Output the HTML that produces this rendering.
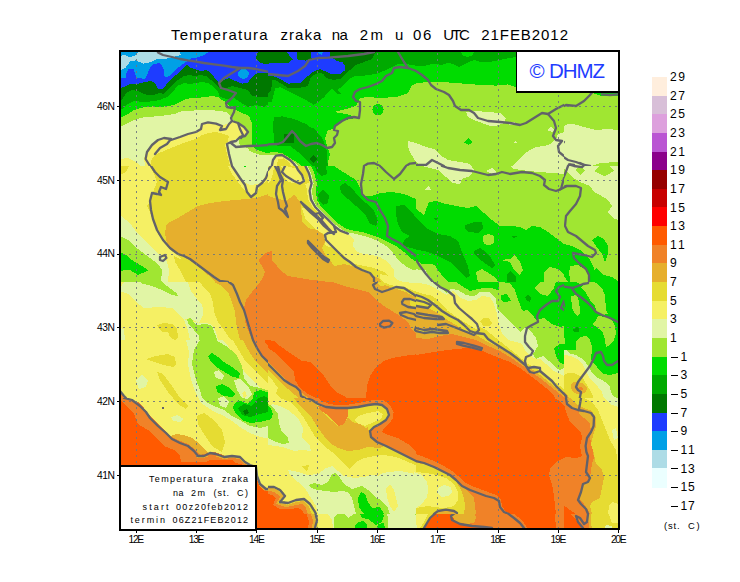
<!DOCTYPE html><html><head><meta charset="utf-8"><style>
html,body{margin:0;padding:0;background:#fff;}body{width:740px;height:582px;overflow:hidden;position:relative;font-family:"Liberation Sans",sans-serif;color:#000;}
svg{position:absolute;left:0;top:0;}
.t{position:absolute;white-space:nowrap;line-height:1;}
</style></head><body>
<svg width="740" height="582" viewBox="0 0 740 582" shape-rendering="crispEdges">
<rect x="0" y="0" width="740" height="582" fill="#fff"/>
<rect x="120" y="51" width="499" height="479" fill="#a0e632"/>
<defs>
<clipPath id="c0"><rect x="120" y="50" width="148" height="116"/></clipPath>
<clipPath id="c1"><rect x="268" y="50" width="148" height="116"/></clipPath>
<clipPath id="c2"><rect x="416" y="50" width="148" height="116"/></clipPath>
<clipPath id="c3"><rect x="564" y="50" width="56" height="116"/></clipPath>
<clipPath id="c4"><rect x="120" y="166" width="148" height="116"/></clipPath>
<clipPath id="c5"><rect x="268" y="166" width="148" height="116"/></clipPath>
<clipPath id="c6"><rect x="416" y="166" width="148" height="116"/></clipPath>
<clipPath id="c7"><rect x="564" y="166" width="56" height="116"/></clipPath>
<clipPath id="c8"><rect x="120" y="282" width="148" height="116"/></clipPath>
<clipPath id="c9"><rect x="268" y="282" width="148" height="116"/></clipPath>
<clipPath id="c10"><rect x="416" y="282" width="148" height="116"/></clipPath>
<clipPath id="c11"><rect x="564" y="282" width="56" height="116"/></clipPath>
<clipPath id="c12"><rect x="120" y="398" width="148" height="116"/></clipPath>
<clipPath id="c13"><rect x="268" y="398" width="148" height="116"/></clipPath>
<clipPath id="c14"><rect x="416" y="398" width="148" height="116"/></clipPath>
<clipPath id="c15"><rect x="564" y="398" width="56" height="116"/></clipPath>
<clipPath id="c16"><rect x="120" y="514" width="148" height="16"/></clipPath>
<clipPath id="c17"><rect x="268" y="514" width="148" height="16"/></clipPath>
<clipPath id="c18"><rect x="416" y="514" width="148" height="16"/></clipPath>
<clipPath id="c19"><rect x="564" y="514" width="56" height="16"/></clipPath>
<clipPath id="c20"><rect x="121" y="52" width="497" height="477"/></clipPath>
<clipPath id="c21"><rect x="121" y="52" width="497" height="477"/></clipPath>
<clipPath id="c22"><rect x="121" y="52" width="497" height="477"/></clipPath>
<clipPath id="c23"><rect x="121" y="52" width="497" height="477"/></clipPath>
<clipPath id="c24"><rect x="564" y="166" width="56" height="116"/></clipPath>
<clipPath id="c25"><rect x="121" y="340" width="147" height="116"/></clipPath>
<clipPath id="c26"><rect x="121" y="52" width="497" height="477"/></clipPath>
<clipPath id="c27"><rect x="380" y="270" width="102" height="80"/></clipPath>
</defs>
<g clip-path="url(#c0)"><g transform="translate(120,50) scale(0.2)">
<rect x="-50" y="-50" width="900" height="700" fill="#00a0e6"/>
<polygon fill="#addce6" points="8,28 25,22 45,38 80,25 90,10 300,10 305,25 265,35 215,48 190,42 150,62 115,68 80,52 50,58 28,88 8,100 0,100 0,28"/>
<polygon fill="#1e3cff" points="0,140 28,138 31,120 41,97 69,93 76,124 83,138 124,145 138,117 152,83 172,69 200,66 217,90 221,131 235,138 262,117 297,83 331,59 359,41 386,38 414,28 448,8 760,8 760,600 0,600"/>
<polygon fill="#00a0e6" points="590,110 605,95 630,95 645,115 640,135 620,145 600,140 590,125"/>
<polygon fill="#007800" points="0,195 10,188 35,178 55,168 80,172 105,165 135,158 155,155 178,168 190,195 215,195 232,172 262,142 298,108 335,72 352,88 378,97 402,106 432,100 452,112 472,138 492,162 520,150 545,140 562,148 585,158 610,168 640,165 655,140 680,118 760,112 760,600 0,600"/>
<polygon fill="#007800" points="690,8 680,40 700,65 740,72 760,72 760,8"/>
<polygon fill="#00aa00" points="0,255 10,250 30,215 60,200 90,205 110,215 135,225 165,225 200,215 215,220 235,200 262,175 290,150 320,130 345,125 375,130 400,125 430,130 455,150 475,170 500,195 530,190 560,180 600,190 640,200 660,230 700,235 760,235 760,600 0,600"/>
<polygon fill="#00dc00" points="0,300 10,295 40,270 70,255 100,258 130,262 165,255 200,250 235,235 262,210 290,178 320,165 350,170 380,165 410,160 440,165 470,185 490,210 500,235 530,245 570,240 600,260 640,285 680,275 720,285 760,260 760,600 0,600"/>
<polygon fill="#a0e632" points="0,338 10,335 40,320 70,300 100,290 130,285 165,282 200,285 240,280 270,275 300,260 330,245 360,240 400,238 430,235 460,230 490,235 510,250 530,262 545,280 560,290 600,310 645,330 662,370 662,420 658,460 670,500 672,600 0,600"/>
<polygon fill="#e1f5a5" points="0,385 10,380 40,365 70,350 100,340 130,335 180,332 240,325 280,318 300,308 340,305 400,300 450,300 500,305 530,310 555,330 560,345 590,365 620,390 640,410 620,430 590,440 600,480 640,490 655,520 650,600 0,600"/>
<polygon fill="#a0e632" points="655,470 672,490 700,505 730,515 760,515 760,600 655,600"/>
<polygon fill="#e1f5a5" points="640,500 670,515 700,525 760,525 760,600 640,600"/>
<polygon fill="#f5f064" points="125,580 120,540 135,500 160,470 200,445 230,440 260,445 300,430 340,420 380,410 405,395 410,370 440,365 480,370 520,375 545,365 560,355 590,365 620,390 640,410 620,430 590,440 560,455 535,470 545,520 560,580"/>
<polygon fill="#e6dc32" points="150,580 160,540 185,520 230,500 280,480 330,460 380,445 410,425 440,415 480,410 520,420 545,430 540,455 525,470 535,520 550,580"/>
<polygon fill="#f5f064" points="0,545 40,540 80,560 100,580 0,580"/>
</g></g>
<g clip-path="url(#c1)"><g transform="translate(268,50) scale(0.2)">
<rect x="-50" y="-50" width="900" height="700" fill="#00dc00"/>
<polygon fill="#00aa00" points="0,8 0,262 18,261 37,190 62,187 100,205 149,230 187,249 230,274 249,261 280,236 311,199 323,196 348,221 367,218 348,199 373,180 398,155 410,143 435,130 480,128 540,120 590,100 620,85 650,70 700,72 740,78 770,80 770,8"/>
<polygon fill="#007800" points="0,8 540,8 520,45 480,60 440,75 410,100 386,124 361,146 323,149 292,140 274,118 249,115 215,134 199,180 155,190 100,190 68,168 37,152 0,152"/>
<polygon fill="#007800" points="-10,120 15,125 20,170 15,200 -10,228"/>
<polygon fill="#1e3cff" points="0,68 25,65 100,65 124,47 90,8 143,8 146,47 187,53 218,44 215,8 311,8 308,31 348,56 373,62 386,81 383,103 361,121 317,121 286,106 261,96 230,106 199,131 162,165 100,168 62,146 37,134 0,128"/>
<polygon fill="#00a0e6" points="245,8 275,8 270,25 255,20"/>
<polygon fill="#00aa00" points="30,335 70,332 130,345 190,370 230,400 250,440 250,470 215,470 190,480 160,470 130,478 100,482 60,480 30,475 28,420 25,380"/>
<polygon fill="#007800" points="80,420 130,420 130,465 80,465"/>
<polygon fill="#007800" points="225,525 245,545 225,565 208,545"/>
<polygon fill="#a0e632" points="740,170 720,175 700,215 640,235 560,240 500,235 460,240 440,280 390,295 330,310 390,320 440,335 420,345 380,350 345,375 330,395 300,400 285,440 295,480 310,520 300,560 290,600 760,600 760,170"/>
<polygon fill="#00dc00" points="578,298 574.249,312 564,322.249 550,326 536,322.249 525.751,312 522,298 525.751,284 536,273.751 550,270 564,273.751 574.249,284"/>
<polygon fill="#e1f5a5" points="700,460 740,455 760,455 760,530 740,535 720,510"/>
<polygon fill="#00aa00" points="30,440 70,470 110,480 150,510 190,550 230,590 300,600 292,490 270,440 230,390"/>
<polygon fill="#007800" points="225,525 245,545 225,565 208,545"/>
<polygon fill="#007800" points="80,420 130,420 130,465 80,465"/>
<polygon fill="#a0e632" points="-10,515 30,510 70,515 110,540 150,565 190,600 -10,600"/>
<polygon fill="#e1f5a5" points="-40,525 30,525 70,522 110,545 150,575 165,600 -40,600"/>
<polygon fill="#f5f064" points="20,600 25,550 40,530 70,528 110,552 140,580 150,600"/>
<polygon fill="#e6dc32" points="40,600 50,545 80,542 110,567 125,600"/>
</g></g>
<g clip-path="url(#c2)"><g transform="translate(416,50) scale(0.2)">
<rect x="-50" y="-50" width="900" height="700" fill="#a0e632"/>
<polygon fill="#00dc00" points="0,8 500,8 500,185 460,172 400,178 330,175 260,170 200,165 130,160 70,160 0,165"/>
<polygon fill="#00aa00" points="0,8 500,8 500,35 440,45 380,58 330,62 290,50 255,65 215,85 165,62 130,75 90,68 40,80 0,78"/>
<polygon fill="#00dc00" points="225,8 290,8 285,25 260,35 235,28"/>
<polygon fill="#e1f5a5" points="250,310 300,305 360,310 420,315 450,340 440,365 400,380 370,380 330,365 290,350 260,335"/>
<polygon fill="#e1f5a5" points="455,365 490,360 500,370 470,375"/>
<polygon fill="#00dc00" points="240,462 262,442 285,460 262,475"/>
<polygon fill="#e1f5a5" points="490,465 498,452 506,465"/>
<polygon fill="#e1f5a5" points="655,400 675,385 695,400 680,410"/>
<polygon fill="#e1f5a5" points="0,465 30,475 60,490 100,515 130,540 150,560 170,580 0,580"/>
<polygon fill="#e1f5a5" points="480,580 510,555 540,520 570,500 600,485 640,480 670,470 700,445 710,420 740,410 760,410 760,580"/>
</g></g>
<g clip-path="url(#c3)"><g transform="translate(472,50) scale(0.2)">
<rect x="-50" y="-50" width="900" height="700" fill="#a0e632"/>
<polygon fill="#00dc00" points="460,8 760,8 760,225 700,232 640,228 600,215 500,185 460,172"/>
<polygon fill="#e1f5a5" points="230,580 240,560 270,520 310,490 350,480 400,470 420,440 425,400 450,385 475,372 500,368 560,385 620,400 680,395 730,400 760,400 760,580"/>
<polygon fill="#a0e632" points="600,580 640,565 730,560 760,560 760,600 600,600"/>
</g></g>
<g clip-path="url(#c4)"><g transform="translate(120,166) scale(0.2)">
<rect x="-50" y="-50" width="900" height="700" fill="#e6dc32"/>
<polygon fill="#f5f064" points="0,0 150,0 170,40 185,80 165,130 150,180 135,200 150,230 165,280 190,340 220,380 250,420 240,450 230,480 245,520 250,580 0,580"/>
<polygon fill="#e6dc32" points="0,0 45,0 30,30 8,40 0,40"/>
<polygon fill="#f5f064" points="250,420 290,445 330,500 360,580 250,580 230,480"/>
<polygon fill="#e6dc32" points="270,450 310,470 340,500 360,540 390,580 330,580 300,520 275,480"/>
<polygon fill="#e1f5a5" points="0,250 8,250 30,270 60,300 90,340 130,380 170,420 200,445 235,480 245,520 240,580 200,580 0,580"/>
<polygon fill="#a0e632" points="0,355 8,355 40,370 70,400 110,430 150,460 190,490 210,520 200,580 0,580"/>
<polygon fill="#00dc00" points="0,440 8,435 30,445 60,470 100,495 135,515 145,530 120,550 90,545 50,520 20,520 0,530"/>
<polygon fill="#e6af2d" points="230,300 240,285 290,260 340,230 390,200 450,185 520,175 600,168 680,160 740,140 760,140 760,580 480,580 440,545 400,510 360,480 320,455 290,445 260,420 235,385 225,340"/>
<polygon fill="#f08228" points="760,430 740,440 720,445 695,475 710,500 725,530 715,560 700,580 760,580"/>
<polygon fill="#f5f064" points="540,0 560,40 590,80 620,120 650,150 680,140 700,100 740,70 760,70 760,0"/>
<polygon fill="#e1f5a5" points="565,0 590,40 620,80 650,95 690,90 720,60 740,30 760,30 760,0"/>
<polygon fill="#00dc00" points="615,0 635,0 625,8"/>
</g></g>
<g clip-path="url(#c5)"><g transform="translate(268,166) scale(0.2)">
<rect x="-50" y="-50" width="900" height="700" fill="#a0e632"/>
<polygon fill="#00dc00" points="215,0 330,0 360,20 400,45 440,70 460,110 480,150 520,150 560,135 620,130 680,140 740,165 760,170 760,490 720,465 680,430 640,400 600,380 560,360 520,345 470,330 420,322 385,310 352,288 322,258 290,228 262,200 245,168 238,124 245,87 232,37"/>
<polygon fill="#00aa00" points="235,0 290,0 295,40 270,50 245,30"/>
<polygon fill="#00aa00" points="250,140 275,120 305,150 300,185 275,195 255,170"/>
<polygon fill="#00aa00" points="360,100 385,85 420,110 450,150 490,185 530,225 550,275 540,300 510,290 490,250 440,200 400,165 365,135"/>
<polygon fill="#00aa00" points="640,200 680,195 710,220 750,270 770,285 770,422 710,410 675,395 680,370 710,350 670,330 650,290 640,240"/>
<polygon fill="#e1f5a5" points="198,0 215,37 228,87 220,124 226,168 245,203 276,233 308,264 340,295 370,318 405,333 450,342 500,355 550,375 590,400 625,435 655,475 695,505 740,528 760,535 760,600 -20,600 -20,0"/>
<polygon fill="#f5f064" points="187,0 205,37 218,87 208,124 215,168 236,205 267,236 299,267 330,299 361,323 398,339 430,365 425,400 445,430 480,440 520,445 560,455 600,480 630,520 650,560 660,600 -20,600 -20,0"/>
<polygon fill="#e6dc32" points="-20,0 60,0 75,15 80,60 100,80 150,90 185,85 195,120 200,165 220,200 250,235 265,300 290,340 280,370 290,400 330,410 370,440 400,470 430,490 480,500 530,510 580,530 610,560 620,600 -20,600"/>
<polygon fill="#e6dc32" points="100,0 185,0 200,40 205,87 150,90"/>
<polygon fill="#f5f064" points="-20,0 30,0 25,40 10,80 -20,100"/>
<polygon fill="#f5f064" points="80,20 100,5 135,10 165,35 185,62 178,85 150,88 110,72 85,50"/>
<polygon fill="#f5f064" points="170,210 200,215 235,250 270,285 300,320 330,340 290,345 250,325 215,295 185,260"/>
<polygon fill="#e6af2d" points="-20,149 0,149 37,162 93,174 131,143 162,180 168,249 171,280 205,311 245,320 280,345 285,380 270,410 285,440 310,470 330,500 380,490 420,500 470,525 520,545 560,565 580,600 -20,600"/>
<polygon fill="#f08228" points="-20,455 0,455 30,480 60,520 100,550 160,560 220,570 280,575 310,600 -20,600"/>
</g></g>
<g clip-path="url(#c6)"><g transform="translate(416,166) scale(0.2)">
<rect x="-50" y="-50" width="900" height="700" fill="#a0e632"/>
<polygon fill="#e1f5a5" points="100,0 130,10 200,20 270,25 290,35 260,55 230,75 220,95 195,90 170,70 140,45 110,20"/>
<polygon fill="#e1f5a5" points="350,25 380,10 405,30 380,40"/>
<polygon fill="#e1f5a5" points="470,0 490,15 560,25 620,30 680,35 740,40 760,40 760,0"/>
<polygon fill="#e1f5a5" points="45,120 62,100 80,122"/>
<polygon fill="#e1f5a5" points="0,0 60,0 30,8 0,8"/>
<polygon fill="#00dc00" points="0,215 40,245 65,180 100,175 150,190 200,200 260,210 300,200 340,235 380,270 420,300 480,300 520,305 550,320 580,300 620,305 660,330 700,360 740,390 760,400 760,600 0,600"/>
<polygon fill="#a0e632" points="0,470 30,490 70,490 100,500 95,580 0,580"/>
<polygon fill="#e1f5a5" points="0,515 25,520 40,560 20,575 0,570"/>
<polygon fill="#a0e632" points="335,350 360,340 390,350 392,385 365,397 338,388"/>
<polygon fill="#a0e632" points="300,530 330,515 370,540 400,560 410,580 310,580"/>
<polygon fill="#a0e632" points="420,470 470,465 495,445 520,480 535,520 520,545 490,520 470,480"/>
<polygon fill="#a0e632" points="640,580 640,530 670,505 710,515 740,540 760,550 760,580"/>
<polygon fill="#00aa00" points="-20,240 10,270 50,310 110,340 170,350 210,375 230,430 260,500 270,550 250,560 210,520 170,480 110,450 60,430 10,420 -20,415"/>
<polygon fill="#00aa00" points="245,295 290,280 330,280 335,310 310,335 265,330 245,315"/>
<polygon fill="#00aa00" points="290,425 320,410 350,430 375,460 395,495 380,510 350,490 310,460 290,440"/>
<polygon fill="#00aa00" points="455,545 470,525 500,550 500,580 455,580"/>
<polygon fill="#00aa00" points="85,260 115,260 100,272"/>
<polygon fill="#00aa00" points="475,348 508,348 492,362"/>
</g></g>
<g clip-path="url(#c7)"><g transform="translate(472,166) scale(0.2)">
<rect x="-50" y="-50" width="900" height="700" fill="#a0e632"/>
<polygon fill="#e1f5a5" points="440,0 480,30 500,55 540,80 590,100 610,130 640,145 680,170 700,200 680,230 705,260 730,270 760,270 760,0"/>
<polygon fill="#a0e632" points="515,20 540,0 565,20 540,45"/>
<polygon fill="#a0e632" points="610,25 640,0 690,0 710,25 665,52"/>
<polygon fill="#00dc00" points="380,350 420,370 460,390 500,400 540,420 570,445 590,470 610,510 620,550 625,580 380,580"/>
<polygon fill="#a0e632" points="360,580 355,530 380,505 420,510 450,540 470,565 480,580"/>
<polygon fill="#a0e632" points="490,540 520,500 560,510 580,540 575,580 490,580"/>
<polygon fill="#00dc00" points="600,370 630,350 660,365 680,400 680,440 665,480 650,440 620,400"/>
</g></g>
<g clip-path="url(#c8)"><g transform="translate(120,282) scale(0.2)">
<rect x="-50" y="-50" width="900" height="700" fill="#f5f064"/>
<polygon fill="#e1f5a5" points="0,30 20,0 340,0 355,45 385,85 412,115 415,165 395,205 345,180 320,190 290,160 260,130 200,125 120,130 80,100 40,60 0,45"/>
<polygon fill="#e1f5a5" points="320,190 340,240 350,290 335,330 325,380 330,440 350,470 355,520 365,580 640,580 625,520 600,470 570,430 545,390 545,350 515,320 490,290 480,250 460,215 430,205 395,205"/>
<polygon fill="#a0e632" points="100,0 150,0 220,10 270,45 290,70 260,65 210,40 160,20 110,8"/>
<polygon fill="#a0e632" points="335,185 355,180 380,215 430,210 460,220 475,260 490,300 520,330 540,360 545,395 570,430 600,465 620,500 630,540 620,580 440,580 420,540 400,490 380,440 360,390 360,350 400,310 395,270 370,240 345,215"/>
<polygon fill="#e1f5a5" points="470,470 500,460 520,490 510,510 480,500"/>
<polygon fill="#e1f5a5" points="560,580 580,540 610,560 620,580"/>
<polygon fill="#00dc00" points="440,370 460,355 490,375 520,400 560,425 600,455 595,480 565,475 530,455 490,430 455,400"/>
<polygon fill="#00dc00" points="480,520 510,510 550,530 575,560 560,580 500,575 480,550"/>
<polygon fill="#00dc00" points="660,580 665,555 690,540 720,550 740,580"/>
<polygon fill="#00aa00" points="685,580 690,565 710,562 725,580"/>
<polygon fill="#e6dc32" points="185,215 215,205 260,210 285,235 290,275 275,290 250,275 240,250 215,250 195,235"/>
<polygon fill="#e6dc32" points="135,385 180,370 240,360 270,370 280,410 265,425 220,415 170,400"/>
<polygon fill="#e6dc32" points="185,455 215,460 245,490 275,530 300,570 300,580 235,580 215,540 195,500"/>
<polygon fill="#e1f5a5" points="80,500 105,470 135,490 140,515 115,540 85,530"/>
<polygon fill="#e1f5a5" points="0,230 20,235 25,290 0,300"/>
<polygon fill="#f08228" points="0,560 20,570 35,600 0,600"/>
<polygon fill="#e6dc32" points="400,0 420,30 450,60 465,100 470,150 490,200 520,240 540,270 570,310 610,350 650,380 690,420 730,450 760,470 760,0"/>
<polygon fill="#e6af2d" points="470,0 500,15 540,50 560,100 575,150 580,200 590,250 600,290 630,320 660,350 700,390 740,430 760,440 760,0"/>
<polygon fill="#f08228" points="760,30 740,40 700,60 660,90 625,115 640,150 625,200 640,240 660,290 680,330 700,360 740,395 760,410"/>
<polygon fill="#ff5a00" points="715,270 740,260 760,255 760,335 740,330 720,300"/>
</g></g>
<g clip-path="url(#c9)"><g transform="translate(268,282) scale(0.2)">
<rect x="-50" y="-50" width="900" height="700" fill="#f08228"/>
<polygon fill="#e6af2d" points="320,0 380,20 440,35 500,50 540,90 580,120 620,145 660,170 700,200 720,240 740,260 760,270 760,0"/>
<polygon fill="#e6dc32" points="540,0 560,20 600,15 640,10 680,15 710,40 740,60 760,70 760,0"/>
<polygon fill="#e6dc32" points="710,90 740,85 760,85 760,135 740,130 715,115"/>
<polygon fill="#f5f064" points="600,0 760,0 760,15 700,8"/>
<polygon fill="#ff5a00" points="0,290 30,295 60,320 110,355 170,395 215,400 250,440 280,470 300,500 320,530 350,555 390,575 390,580 240,580 200,560 160,530 135,490 130,450 100,420 60,380 30,350 0,330"/>
<polygon fill="#ff5a00" points="490,580 495,520 510,470 540,425 580,395 630,378 690,368 740,362 760,360 760,580"/>
<polygon fill="#e6af2d" points="0,400 30,430 70,470 110,510 150,540 190,570 200,580 0,580"/>
<polygon fill="#e6dc32" points="0,440 30,470 60,500 100,535 135,565 150,580 0,580"/>
<polygon fill="#f5f064" points="0,470 25,495 50,530 40,560 60,580 0,580"/>
</g></g>
<g clip-path="url(#c10)"><g transform="translate(416,282) scale(0.2)">
<rect x="-50" y="-50" width="900" height="700" fill="#ff5a00"/>
<polygon fill="#f08228" points="0,0 760,0 760,600 715,600 690,570 650,530 600,490 560,460 520,430 470,400 430,385 380,365 320,340 260,330 200,335 120,345 60,355 0,365"/>
<polygon fill="#e6af2d" points="0,0 760,0 760,600 740,580 720,560 670,520 620,480 570,445 520,410 470,375 420,345 360,320 300,290 240,275 180,260 120,270 60,285 0,280"/>
<polygon fill="#e6dc32" points="0,0 760,0 760,570 740,560 720,545 670,505 620,465 570,430 520,395 470,360 420,330 360,300 300,265 250,245 200,215 150,185 100,150 50,125 0,120"/>
<polygon fill="#e6af2d" points="0,120 30,125 50,135 20,140 0,140"/>
<polygon fill="#f5f064" points="0,0 760,0 760,545 740,535 720,520 680,490 640,455 600,430 560,410 530,385 500,360 450,320 400,280 350,240 300,215 240,195 200,165 160,130 120,110 80,95 40,70 0,50"/>
<polygon fill="#e6dc32" points="320,195 335,180 365,182 380,205 365,222 335,218"/>
<polygon fill="#e1f5a5" points="90,0 110,40 130,70 160,60 185,45 215,75 260,95 300,90 330,70 370,75 390,110 405,160 415,210 430,260 460,290 500,300 530,310 545,340 560,360 590,380 620,385 650,410 680,440 710,455 740,470 760,480 760,0"/>
<polygon fill="#a0e632" points="100,0 125,30 150,55 175,35 210,40 250,65 290,72 320,50 365,50 400,85 405,130 430,160 460,185 490,220 520,250 545,225 570,240 600,280 610,320 585,360 600,385 635,370 665,395 695,425 720,440 740,430 760,430 760,0"/>
<polygon fill="#00dc00" points="200,0 230,20 270,45 310,35 340,30 380,30 420,45 430,90 460,100 490,120 520,150 555,140 580,160 600,190 640,180 680,210 720,225 740,220 760,220 760,0"/>
<polygon fill="#a0e632" points="590,30 620,0 700,0 690,30 660,70 620,60"/>
<polygon fill="#00dc00" points="690,330 720,310 760,310 760,420 715,400 700,370"/>
<polygon fill="#00aa00" points="545,75 560,62 575,78 570,100 555,95"/>
</g></g>
<g clip-path="url(#c11)"><g transform="translate(0,0) scale(1)">
<rect x="-50" y="-50" width="900" height="700" fill="#00dc00"/>
<polygon fill="#a0e632" points="581,287 590,281 596,283 602,288 605,295 606,310 608,314 602,315 597,313 595,306 590,300 586,293"/>
<polygon fill="#a0e632" points="571,296 577,295 579,302 580.5,313 578,316 575,314 572,308"/>
<polygon fill="#a0e632" points="570,266 578,265 584,270 588,275 588,283 580,284 572,280 569,275"/>
<polygon fill="#a0e632" points="592,324 596,320 598,316 606,317 612,320 615,326 616,333 614,340 610,345 606,347 605,340 603,333 599,329 595,326"/>
<polygon fill="#a0e632" points="576,342 580,337 586,336 590,340 592,347 591,354 590,362 570,362 576,350"/>
<polygon fill="#a0e632" points="546,320 550,320 553,324 554,330 561,330 564,334 565,342 564,347 558,344 556,348 546,348"/>
<polygon fill="#00aa00" points="572,330 578,326.5 579.5,332 575,332"/>
<polygon fill="#a0e632" points="546,350 592,350 591,359 594,364 597,367 600,371 604,374 610,375 618,373 622,373 622,410 546,410"/>
<polygon fill="#e1f5a5" points="556,350 566,350 571,354 576,355 581,358 586,363 590,369 592,373 596,377 602,380 607,383 610,387 611,392 614,397 618,398 622,398 622,410 546,410 546,359 548,360 551,365 554,369 556,366 556,354"/>
<polygon fill="#f5f064" points="561,358 564,355 571,356 577,359 583,365 586,371 589,377 593,382 598,387 602,392 604,398 608,408 608,410 546,410 546,365 552,370 556,372 561,371 563,368 561,363"/>
<polygon fill="#e6dc32" points="546,373 552,376 557,379 560,378 564,375 568,373 574,373 580,376 584,380 587,385 590,390 593,396 594,402 596,408 596,410 546,410"/>
<polygon fill="#e6af2d" points="571,384 574,382 579,382 584,384 587,388 586,392 582,394 577,394 573,392 571,388"/>
<polygon fill="#f08228" points="579,387 582,387.5 583,389.5 580.5,390 578.5,388.5"/>
<polygon fill="#e6af2d" points="546,378 551,379 555,383 559,388 563,391 568,396 572,401 576,406 580,410 546,410"/>
<polygon fill="#f08228" points="546,379 551,380 554,384 558,389 562,392 566,396 567,402 570,406 576,408 576,410 546,410"/>
<polygon fill="#ff5a00" points="546,386 549,390 553,396 557,401 560,406 562,410 546,410"/>
</g></g>
<g clip-path="url(#c12)"><g transform="translate(120,398) scale(0.2)">
<rect x="-50" y="-50" width="900" height="700" fill="#ff5a00"/>
<polygon fill="#f08228" points="0,20 8,25 40,45 70,85 90,125 130,150 170,180 200,215 240,245 280,265 300,290 305,320 430,320 450,310 560,310 580,325 640,340 680,350 683,400 695,440 720,465 760,470 760,-10 0,-10"/>
<polygon fill="#e6af2d" points="0,0 15,5 50,18 90,48 120,78 140,108 180,148 220,183 250,213 290,235 330,250 360,275 385,300 420,300 450,288 480,292 520,305 560,300 595,305 620,328 648,343 678,352 680,395 694,435 722,462 760,465 760,-10 0,-10"/>
<polygon fill="#f5f064" points="20,0 60,10 100,40 130,70 150,100 190,140 230,175 260,205 300,225 340,240 370,265 390,290 420,290 450,275 480,280 520,295 560,290 600,295 625,320 650,335 680,345 685,390 700,430 730,455 760,455 760,-10 20,-10"/>
<polygon fill="#e6dc32" points="20,0 180,0 175,40 160,80 170,120 190,140 150,100 130,70 100,40 60,10"/>
<polygon fill="#e6dc32" points="180,0 340,0 330,40 300,60 260,45 215,50 190,40"/>
<polygon fill="#e6dc32" points="380,80 420,70 470,90 500,130 520,180 530,230 545,270 560,290 520,295 480,280 450,275 420,290 390,290 370,265 340,240 300,225 270,205 300,190 340,200 375,160 370,110"/>
<polygon fill="#e6af2d" points="340,200 370,185 410,190 440,215 470,250 500,275 540,290 520,295 480,280 450,275 420,290 390,290 370,265 345,240 320,225"/>
<polygon fill="#e1f5a5" points="380,0 480,0 470,30 500,60 540,90 580,130 620,160 680,175 740,200 760,205 760,250 700,235 650,215 600,190 560,160 520,120 480,90 440,60 400,40"/>
<polygon fill="#a0e632" points="440,0 760,0 760,190 700,170 650,165 610,140 570,110 540,80 500,50 470,20"/>
<polygon fill="#00dc00" points="560,30 590,10 620,0 700,0 720,40 700,80 670,110 640,120 600,100 570,70"/>
<polygon fill="#00aa00" points="590,45 620,30 660,35 665,70 640,90 610,85 592,65"/>
<polygon fill="#007800" points="615,65 630,58 645,72 630,85"/>
<polygon fill="#e1f5a5" points="260,95 290,85 320,100 300,115 270,112"/>
<polygon fill="#62626a" points="208,43 218,43 218,53 208,53"/>
</g></g>
<g clip-path="url(#c13)"><g transform="translate(268,398) scale(0.2)">
<rect x="-50" y="-50" width="900" height="700" fill="#f5f064"/>
<polygon fill="#e6dc32" points="60,0 200,0 250,30 290,45 400,50 500,35 570,35 595,55 605,85 590,110 530,145 510,165 515,195 545,220 640,265 740,315 760,320 760,345 690,315 640,295 580,285 530,290 480,300 440,320 410,355 380,330 350,300 320,270 280,240 240,200 210,150 180,100 150,60 110,20"/>
<polygon fill="#e6af2d" points="130,0 200,0 240,30 260,60 290,90 320,115 350,140 380,130 400,95 430,85 470,120 500,150 510,190 540,220 580,240 560,250 500,245 450,260 400,265 350,250 310,225 280,190 250,150 220,100 180,60 150,30"/>
<polygon fill="#f08228" points="250,40 300,50 360,55 400,55 400,90 380,130 350,140 320,110 290,80 260,60"/>
<polygon fill="#e6dc32" points="400,95 430,70 480,55 540,50 580,60 590,90 570,115 520,135 490,150 460,130 420,120"/>
<polygon fill="#f5f064" points="430,110 450,90 500,75 550,65 575,80 565,105 520,125 485,140 455,130"/>
<polygon fill="#f08228" points="190,0 220,10 250,30 290,45 340,50 400,50 450,45 500,35 540,30 570,35 595,55 605,85 590,110 560,130 530,145 510,165 515,195 545,220 590,240 640,265 690,290 740,315 760,320 760,-10 190,-10"/>
<polygon fill="#ff5a00" points="240,-10 260,10 300,28 340,35 400,33 450,25 500,15 540,8 580,12 610,35 628,70 625,100 605,130 580,150 570,170 600,185 650,200 700,230 740,265 760,275 760,-10"/>
<polygon fill="#e1f5a5" points="20,30 60,40 100,60 150,100 175,150 170,200 210,240 215,265 170,260 130,265 90,250 40,240 0,235 0,60"/>
<polygon fill="#a0e632" points="0,30 20,40 50,80 55,130 70,170 100,200 105,225 70,230 30,215 0,200"/>
<polygon fill="#00dc00" points="0,40 15,50 25,80 15,105 0,110"/>
<polygon fill="#e1f5a5" points="100,360 150,370 200,385 250,380 290,350 320,340 350,365 380,390 430,400 480,395 520,385 550,390 560,380 600,370 660,365 740,380 760,380 760,580 250,580 240,540 215,500 190,460 150,420 110,385"/>
<polygon fill="#a0e632" points="205,435 230,425 270,435 300,420 320,380 340,375 360,400 380,430 420,455 470,440 500,460 530,490 570,515 600,550 610,580 440,580 430,540 420,500 400,470 370,465 330,470 290,465 250,460 215,450"/>
<polygon fill="#00dc00" points="450,500 465,470 485,480 500,520 520,550 560,545 580,580 480,580 455,545"/>
<polygon fill="#f5f064" points="590,450 610,430 630,460 640,500 650,540 630,570 610,540 595,500"/>
<polygon fill="#e6dc32" points="170,340 205,335 195,370"/>
<polygon fill="#e6dc32" points="0,440 30,440 65,455 90,488 70,515 100,520 140,505 180,500 215,525 240,565 245,580 0,580"/>
<polygon fill="#e6af2d" points="0,450 30,452 55,465 75,490 50,525 100,535 140,520 175,515 200,535 220,580 0,580"/>
<polygon fill="#f08228" points="0,465 25,468 45,480 60,495 40,530 90,545 140,535 170,530 190,550 200,580 0,580"/>
<polygon fill="#ff5a00" points="0,480 20,485 40,500 25,535 60,555 110,555 150,550 170,560 180,580 0,580"/>
</g></g>
<g clip-path="url(#c14)"><g transform="translate(416,398) scale(0.2)">
<rect x="-50" y="-50" width="900" height="700" fill="#ff5a00"/>
<polygon fill="#f08228" points="690,0 720,15 740,40 760,50 760,0"/>
<polygon fill="#f08228" points="760,290 740,300 700,320 670,350 665,390 680,430 690,490 700,580 760,580"/>
<polygon fill="#f08228" points="0,280 40,295 90,315 140,340 180,365 210,390 240,420 280,440 320,455 360,470 400,485 425,510 432,545 452,570 475,580 465,600 0,600"/>
<polygon fill="#e6af2d" points="0,315 40,325 90,345 130,365 170,385 200,410 230,440 250,455 290,500 295,540 300,580 0,580"/>
<polygon fill="#e6dc32" points="0,325 40,330 90,350 130,370 170,390 200,415 225,460 240,500 245,540 240,580 0,580"/>
<polygon fill="#f5f064" points="0,370 50,375 100,385 150,400 190,430 210,470 210,510 190,540 140,550 90,545 60,540 30,545 0,550"/>
<polygon fill="#e1f5a5" points="0,400 30,410 55,440 60,470 45,500 20,520 0,525"/>
<polygon fill="#e1f5a5" points="110,450 140,435 175,445 180,470 160,490 125,495 105,475"/>
<polygon fill="#e6af2d" points="90,580 110,565 150,560 200,570 210,580"/>
</g></g>
<g clip-path="url(#c15)"><g transform="translate(472,398) scale(0.2)">
<rect x="-50" y="-50" width="900" height="700" fill="#ff5a00"/>
<polygon fill="#f08228" points="430,0 460,30 470,70 490,120 520,150 545,170 550,200 540,240 550,290 520,300 470,295 420,315 390,340 385,390 410,440 430,490 450,530 490,560 520,580 760,580 760,0"/>
<polygon fill="#e6af2d" points="470,0 475,30 500,50 530,60 540,85 560,100 590,130 595,170 590,200 600,240 610,300 600,330 590,400 580,420 555,430 545,470 540,510 560,530 580,560 590,580 760,580 760,0"/>
<polygon fill="#e6dc32" points="490,0 520,30 560,50 600,65 620,100 618,150 605,190 595,230 610,280 620,330 650,360 660,400 650,450 640,500 600,520 590,540 600,580 760,580 760,0"/>
<polygon fill="#f5f064" points="560,0 600,20 630,60 650,110 670,160 690,210 720,260 725,300 740,350 760,360 760,0"/>
<polygon fill="#f5f064" points="680,580 685,540 700,520 730,530 760,560 760,580"/>
<polygon fill="#e1f5a5" points="660,0 690,30 730,45 760,50 760,0"/>
<polygon fill="#e1f5a5" points="700,160 720,150 730,200 710,210"/>
</g></g>
<g clip-path="url(#c16)"><g transform="translate(120,414) scale(0.2)">
<rect x="-50" y="-50" width="900" height="700" fill="#ff5a00"/>
</g></g>
<g clip-path="url(#c17)"><g transform="translate(268,414) scale(0.2)">
<rect x="-50" y="-50" width="900" height="700" fill="#e1f5a5"/>
<polygon fill="#f5f064" points="240,490 260,480 300,500 320,530 325,570 330,600 240,600"/>
<polygon fill="#a0e632" points="330,600 330,520 350,495 380,500 400,520 430,500 440,460 500,440 560,440 590,470 600,520 600,600"/>
<polygon fill="#00dc00" points="450,400 470,390 495,430 500,480 515,500 540,475 570,480 580,510 570,540 540,555 520,540 500,525 470,520 450,480"/>
<polygon fill="#00dc00" points="435,560 450,540 480,535 495,555 490,600 440,600"/>
<polygon fill="#00dc00" points="540,600 550,550 580,545 590,600"/>
<polygon fill="#e6dc32" points="215,440 235,490 250,530 245,600 0,600 0,440"/>
<polygon fill="#e6af2d" points="210,450 228,495 238,530 230,600 0,600 0,450"/>
<polygon fill="#f08228" points="195,460 215,500 225,535 215,600 0,600 0,460"/>
<polygon fill="#ff5a00" points="170,470 195,505 205,540 195,600 0,600 0,470"/>
<polygon fill="#a0e632" points="730,470 760,465 760,510 730,505"/>
</g></g>
<g clip-path="url(#c18)"><g transform="translate(416,414) scale(0.2)">
<rect x="-50" y="-50" width="900" height="700" fill="#ff5a00"/>
<polygon fill="#f08228" points="240,440 300,400 415,430 420,460 450,490 490,520 520,545 545,575 545,600 200,600 200,440"/>
<polygon fill="#f08228" points="415,420 440,455 470,485 510,515 540,545 560,575 560,600 520,600 490,520 450,490 420,460"/>
<polygon fill="#e6af2d" points="200,420 250,440 290,480 300,520 290,545 250,550 200,540 180,510 150,480 200,480"/>
<polygon fill="#e6dc32" points="0,400 200,400 240,450 240,480 200,490 150,478 110,485 70,520 40,570 30,600 0,600"/>
<polygon fill="#f5f064" points="0,400 60,420 80,460 60,500 40,540 20,570 10,600 0,600"/>
<polygon fill="#ff5a00" points="40,600 70,520 110,485 150,478 200,490 175,510 180,530 220,550 280,560 340,565 380,575 380,600"/>
<polygon fill="#f08228" points="690,480 760,480 760,600 705,600"/>
</g></g>
<g clip-path="url(#c19)"><g transform="translate(472,414) scale(0.2)">
<rect x="-50" y="-50" width="900" height="700" fill="#e6dc32"/>
<polygon fill="#f5f064" points="680,460 700,440 730,450 760,460 760,540 700,545 685,500"/>
<polygon fill="#e1f5a5" points="650,600 670,555 700,560 710,600"/>
<polygon fill="#e6af2d" points="560,400 600,420 600,470 595,520 600,600 560,600"/>
<polygon fill="#f08228" points="400,420 580,420 585,470 580,520 590,600 400,600"/>
<polygon fill="#ff5a00" points="380,400 430,400 455,450 480,490 520,530 548,570 555,600 380,600"/>
</g></g>
<g clip-path="url(#c20)"><g transform="translate(342,108) scale(0.2)">
<polygon fill="#a0e632" points="320,150 480,180 680,260 680,400 520,400 330,300"/>
<polygon fill="#e1f5a5" points="330,165 370,175 420,195 460,205 490,235 530,260 590,270 640,280 660,310 640,340 600,355 590,380 550,375 520,345 480,310 440,300 400,290 370,270 345,230 330,195"/>
</g></g>
<g clip-path="url(#c21)"><g transform="translate(120,224) scale(0.2)">
<polygon fill="#f08228" points="760,135 740,140 715,155 695,180 720,205 735,235 700,290 660,340 630,380 620,420 640,480 660,540 680,580 760,580"/>
<polygon fill="#a0e632" points="150,230 210,240 205,280 230,310 290,350 260,355 200,320 160,295 120,290 60,280 100,250"/>
</g></g>
<g clip-path="url(#c22)"><g transform="translate(472,108) scale(0.2)">
</g></g>
<g clip-path="url(#c23)"><g transform="translate(416,224) scale(0.2)">
<polygon fill="#a0e632" points="0,195 40,200 80,200 110,230 140,270 170,300 200,320 140,330 100,300 60,260 0,220"/>
<polygon fill="#e1f5a5" points="0,225 40,235 70,265 100,300 130,330 100,340 60,300 30,270 0,250"/>
<polygon fill="#f5f064" points="0,250 30,270 60,300 90,335 60,340 0,300"/>
<polygon fill="#a0e632" points="415,290 470,295 495,330 515,390 530,430 560,450 600,480 560,500 500,480 450,440 415,400"/>
<polygon fill="#00dc00" points="425,355 455,350 475,385 440,392 425,380"/>
</g></g>
<g clip-path="url(#c24)"><g transform="translate(0,0) scale(1)">
<polygon fill="#00dc00" points="596,268 604,275 612,277 618,281 622,283 622,290 590,290 594,272"/>
<polygon fill="#a0e632" points="570,266 578,265 584,270 588,275 588,283 580,284 572,280 569,275"/>
</g></g>
<g clip-path="url(#c25)"><g transform="translate(120,340) scale(0.2)">
<rect x="-50" y="-50" width="900" height="700" fill="#f5f064"/>
<polygon fill="#e6dc32" points="130,95 180,80 240,70 275,85 280,120 265,135 220,125 170,110"/>
<polygon fill="#e6dc32" points="185,160 215,170 260,230 300,290 340,330 330,345 290,320 240,260 200,200"/>
<polygon fill="#e6dc32" points="385,380 420,365 470,400 510,450 525,510 510,560 460,530 420,470 390,420"/>
<polygon fill="#e1f5a5" points="80,200 110,175 140,205 130,235 95,245"/>
<polygon fill="#e1f5a5" points="255,385 285,375 320,395 300,410 265,405"/>
<polygon fill="#e1f5a5" points="330,0 345,60 340,120 355,200 375,255 405,315 465,355 520,380 560,405 600,435 650,465 700,485 760,495 760,290 720,255 680,220 640,180 600,130 570,80 540,30 510,0"/>
<polygon fill="#a0e632" points="400,0 480,0 530,30 580,70 610,130 620,190 650,230 700,240 760,260 760,425 700,440 650,430 600,400 560,380 520,350 470,330 430,310 410,290 400,250 380,200 360,120 370,50"/>
<polygon fill="#e1f5a5" points="470,160 495,150 520,180 510,200 480,190"/>
<polygon fill="#e1f5a5" points="490,290 520,280 545,310 530,340 500,330"/>
<polygon fill="#e1f5a5" points="570,200 600,195 640,230 660,270 640,295 610,290 585,250"/>
<polygon fill="#f5f064" points="610,265 625,255 635,280 620,290"/>
<polygon fill="#00dc00" points="440,80 460,65 490,85 520,110 560,135 600,165 595,190 565,185 530,165 490,140 455,110"/>
<polygon fill="#00dc00" points="480,230 510,220 550,240 575,270 560,285 520,280 485,260"/>
<polygon fill="#00dc00" points="570,320 590,300 640,320 665,290 670,260 700,250 760,270 760,395 700,410 650,415 610,400 580,370 565,340"/>
<polygon fill="#00aa00" points="590,340 620,320 660,330 690,290 720,280 760,300 760,355 700,370 650,385 610,375"/>
<polygon fill="#007800" points="615,355 635,345 645,365 625,375"/>
<polygon fill="#e6dc32" points="545,-20 570,10 600,60 630,110 670,150 720,200 770,245 770,-20"/>
<polygon fill="#e6af2d" points="605,-20 635,40 670,95 710,140 760,190 770,200 770,-20"/>
<polygon fill="#f08228" points="660,-20 680,40 710,90 750,130 770,150 770,-20"/>
<polygon fill="#ff5a00" points="715,-20 740,-10 770,5 770,60 730,20"/>
<polygon fill="#e6af2d" points="250,480 280,470 320,475 360,490 400,520 440,565 520,575 520,600 400,600 380,550 340,520 290,500"/>
<polygon fill="#f08228" points="0,255 20,280 50,300 90,310 120,340 150,380 200,430 250,480 290,500 340,520 380,550 400,575 440,565 470,560 520,575 520,600 0,600"/>
<polygon fill="#ff5a00" points="0,300 30,330 70,370 90,420 140,450 180,490 220,530 270,550 300,580 310,600 0,600"/>
<polygon fill="#62626a" points="208,335 218,335 218,345 208,345"/>
</g></g>
<g clip-path="url(#c26)"><g transform="translate(342,440) scale(0.2)">
<polygon fill="#e1f5a5" points="360,160 400,175 425,210 432,250 425,285 400,320 372,340 362,400 378,440 360,440"/>
</g></g>
<g clip-path="url(#c27)"><g transform="translate(380,270) scale(0.137931)">
<polygon fill="#e6dc32" points="0,60 30,90 80,110 130,120 180,125 220,140 270,160 320,175 370,185 410,210 450,250 490,295 540,330 590,365 640,395 690,425 720,430 740,445 740,470 700,455 650,425 600,395 550,360 500,325 455,285 420,250 385,225 335,210 280,200 230,185 190,160 140,145 90,130 40,110 0,80"/>
<polygon fill="#f5f064" points="0,30 100,50 140,80 200,90 270,95 330,100 380,120 430,150 470,175 520,200 540,240 560,280 600,320 650,360 700,400 720,430 690,425 640,395 590,365 540,330 490,295 450,250 410,210 370,185 320,175 270,160 220,140 180,125 130,120 80,110 30,90 0,60"/>
<polygon fill="#e1f5a5" points="100,0 330,0 345,30 380,70 420,110 450,140 430,150 380,120 330,100 270,95 200,90 140,80 100,50"/>
<polygon fill="#e6dc32" points="215,230 250,222 320,225 355,245 350,270 300,272 240,268 215,250"/>
<polygon fill="#e6dc32" points="280,425 340,445 400,430 460,432 490,445 470,462 400,462 340,468 290,448"/>
</g></g>
<g clip-path="url(#c0)" shape-rendering="auto"><g transform="translate(120,50) scale(0.2)" fill="none" stroke="#62626a" stroke-width="11.5" stroke-linejoin="round" stroke-linecap="round">
<polyline points="190,12 215,25 260,35 300,45 340,52 380,58 420,65 470,72 520,78 560,85 600,90 640,90 680,95 710,102 740,108"/>
<polyline points="600,90 560,115 520,140 495,165 505,190 540,200 580,215 560,240 530,265 535,285 560,290 575,285 570,310 555,340 560,355"/>
<polyline points="150,580 128,545 135,510 160,475 190,450 220,440 255,445 235,470 200,490 175,520"/>
<polyline points="255,450 300,435 340,420 380,410 405,395 410,370 440,362 480,368 510,380 500,400 530,395 545,370 560,355 590,365 620,385 640,410 625,430 600,435 580,455 555,460 535,470 545,520 560,580"/>
<polyline points="555,465 580,485 640,480 700,478 740,475"/>
<polyline points="590,365 600,395 615,425 605,440"/>
</g></g>
<g clip-path="url(#c1)" shape-rendering="auto"><g transform="translate(268,50) scale(0.2)" fill="none" stroke="#62626a" stroke-width="11.5" stroke-linejoin="round" stroke-linecap="round">
<polyline points="0,120 50,125 100,130 150,105 185,80 205,50 250,40 300,38 400,30 480,20 530,10"/>
<polyline points="650,10 680,60 700,90 740,105"/>
<polyline points="700,90 660,85 630,90 620,115 590,130 570,155 540,170 500,185 460,195 435,210 425,235 440,255 460,260 460,300 455,340 430,335 400,340 370,355 335,380 330,400 350,405 345,425 330,440 335,465 320,485 295,490 270,475 245,465 215,470 190,480 160,455 135,420 120,405 100,430 75,460 50,470 0,472"/>
<polyline points="15,600 25,550 40,528 70,525 110,550 130,570 150,600"/>
<polyline points="480,580 500,568 530,565 560,580"/>
<polyline points="690,580 710,568 740,565"/>
</g></g>
<g clip-path="url(#c2)" shape-rendering="auto"><g transform="translate(416,50) scale(0.2)" fill="none" stroke="#62626a" stroke-width="11.5" stroke-linejoin="round" stroke-linecap="round">
<polyline points="0,105 30,125 60,150 75,175 100,195 140,210 165,225 185,255 195,280 225,300 265,300 290,315 310,340 360,355 420,360 470,365 520,375 550,365 590,340 630,315 660,320 700,295 740,275"/>
<polyline points="660,320 690,355 700,390 685,430 700,450 730,455 710,480 715,510 740,530"/>
<polyline points="0,575 50,575 80,550 110,565 140,580"/>
</g></g>
<g clip-path="url(#c3)" shape-rendering="auto"><g transform="translate(472,50) scale(0.2)" fill="none" stroke="#62626a" stroke-width="11.5" stroke-linejoin="round" stroke-linecap="round">
<polyline points="0,300 20,330 60,350 130,355 200,365 250,372 280,365 310,340 345,318 375,320 410,305 440,290 470,275 520,280 560,255 590,225 600,213"/>
<polyline points="375,320 400,345 420,370 418,400 400,430 415,445 445,455 460,460 445,470 430,475 430,510 450,530 480,550 520,560 560,575 590,580"/>
<polyline points="480,580 490,572 510,575"/>
<polyline points="650,222 690,225 730,222"/>
</g></g>
<g clip-path="url(#c4)" shape-rendering="auto"><g transform="translate(120,166) scale(0.2)" fill="none" stroke="#62626a" stroke-width="11.5" stroke-linejoin="round" stroke-linecap="round">
<polyline points="155,0 175,30 200,55 240,80 230,115 205,105 195,130 205,145 185,140 160,135 150,175 155,220 165,265 185,320 215,370 250,410 290,440 320,450 350,465 390,495 430,525 470,555 500,575 540,580"/>
<polyline points="200,455 225,445 232,460 215,475 200,470 200,455"/>
<polyline points="560,0 580,30 600,60 625,95 635,130 655,155 680,135 685,105 710,85 730,60 740,30"/>
</g></g>
<g clip-path="url(#c5)" shape-rendering="auto"><g transform="translate(268,166) scale(0.2)" fill="none" stroke="#62626a" stroke-width="11.5" stroke-linejoin="round" stroke-linecap="round">
<polyline points="187,0 205,37 218,87 208,124 215,168 236,205 267,236 299,267 330,299 361,323 400,338"/>
<polyline points="330,299 340,330 300,335 285,345 290,370 320,400 350,430 380,460 410,480 440,505 470,520 510,535 530,560 530,580"/>
<polyline points="35,0 50,30 65,70 45,100 40,140 50,180 55,210 75,225 100,255 95,240 85,215 95,200 85,170 75,130 70,100 75,70 60,40 50,0"/>
<polyline points="0,20 15,0"/>
<polyline points="85,0 70,30 90,50 130,75 160,88 180,75 170,45 150,20 140,0"/>
<polyline points="165,180 200,210 235,240 270,275 300,310 330,340 315,330 280,300 250,265 215,235 185,205 165,180"/>
<polyline points="235,240 255,235 275,260 265,270"/>
<polyline points="200,375 225,400 250,425 280,455 305,470 300,480 275,465 245,435 220,410 200,385 200,375"/>
<polyline points="480,0 475,40 465,90 470,140 500,170 540,180 560,220 585,260 600,300 595,350 620,365 660,385 700,420 740,450"/>
<polyline points="560,0 590,30 630,65 660,40 690,0"/>
</g></g>
<g clip-path="url(#c6)" shape-rendering="auto"><g transform="translate(416,166) scale(0.2)" fill="none" stroke="#62626a" stroke-width="11.5" stroke-linejoin="round" stroke-linecap="round">
<polyline points="130,0 160,10 220,20 280,25 320,35 360,45 400,40 430,30 470,40 530,30 580,35 620,50 645,70 640,95 665,115 700,125 725,115 740,60"/>
<polyline points="0,470 20,500 50,540 80,575 85,580"/>
</g></g>
<g clip-path="url(#c7)" shape-rendering="auto"><g transform="translate(472,166) scale(0.2)" fill="none" stroke="#62626a" stroke-width="11.5" stroke-linejoin="round" stroke-linecap="round">
<polyline points="480,0 465,40 450,75 435,110 470,100 520,100 545,110 540,150 520,190 490,225 470,250 465,300 480,330 520,350 550,375 580,400 615,420 620,435 600,455 560,445 530,440 505,435 510,460 540,490 570,515 585,545 585,580"/>
<polyline points="0,20 60,40 100,45 150,30 200,25 260,30 310,35 350,60 365,95 400,120 435,115"/>
</g></g>
<g clip-path="url(#c8)" shape-rendering="auto"><g transform="translate(120,282) scale(0.2)" fill="none" stroke="#62626a" stroke-width="11.5" stroke-linejoin="round" stroke-linecap="round">
<polyline points="545,0 565,15 585,60 600,100 620,140 635,190 650,240 665,290 685,330 710,370 740,400"/>
<polyline points="0,545 20,570 30,580"/>
</g></g>
<g clip-path="url(#c9)" shape-rendering="auto"><g transform="translate(268,282) scale(0.2)" fill="none" stroke="#62626a" stroke-width="11.5" stroke-linejoin="round" stroke-linecap="round">
<polyline points="0,410 20,430 50,460 80,490 110,510 140,525 160,545 165,570 185,580"/>
<polyline points="545,0 525,15 535,35 570,50 600,40 640,25 680,30 710,50 740,70"/>
<polyline points="740,95 710,85 680,85 670,100 672,110 700,125 740,130"/>
<polyline points="740,170 730,160 690,150 660,155 665,165 700,180 740,190"/>
<polyline points="560,210 575,195 605,193 622,205 610,222 580,228 562,220 560,210"/>
<polyline points="740,225 735,240 740,245"/>
</g></g>
<g clip-path="url(#c10)" shape-rendering="auto"><g transform="translate(416,282) scale(0.2)" fill="none" stroke="#62626a" stroke-width="11.5" stroke-linejoin="round" stroke-linecap="round">
<polyline points="90,0 120,25 160,45 190,70 195,105 215,130 250,160 280,185 305,210 315,240 300,255 270,245 240,215 210,190 170,170 130,145 100,120 60,90 30,75 0,65"/>
<polyline points="0,90 40,100 75,115 60,130 30,125 0,120"/>
<polyline points="0,155 60,165 130,175 140,185 100,185 40,180 0,170"/>
<polyline points="110,215 150,210 190,225 240,245 290,265 300,255"/>
<polyline points="0,230 40,240 80,235 120,240 155,245 160,255 120,255 80,250 40,255 0,245"/>
<polyline points="300,255 340,260 360,285 390,305 430,330 470,355 510,385 540,410 560,430 590,425 620,430 620,445 590,455 570,450 560,435"/>
<polyline points="620,445 650,470 680,495 700,520 730,550 740,560"/>
<polyline points="205,300 240,305 290,318 330,330 325,340 280,328 235,318 205,310 205,300"/>
<polyline points="740,15 715,25 700,45 720,75 710,95 680,95 650,115 620,140 605,170 610,200 580,215 555,230 545,270 545,300 565,325 585,345 575,365 550,375 545,395 550,420 560,435"/>
<polyline points="740,95 725,130 740,140"/>
</g></g>
<g clip-path="url(#c11)" shape-rendering="auto"><g transform="translate(0,0) scale(1)" fill="none" stroke="#62626a" stroke-width="2.3" stroke-linejoin="round" stroke-linecap="round">
<polyline points="572,253 574,257 580,263 586,268 589,274 588,283 583,284 578,286 573,288"/>
<polyline points="573,288 560,286 556,290 555,295 560,300 563,305"/>
<polyline points="573,288 573,290 576,294 582,298 588,303 592,307 596,312 602,315 610,318 618,322"/>
<polyline points="546,304 550,301 554,300 557,305 562,309 564,306 563,300 560,296"/>
<polyline points="618,361 612,365 607,365 604,361 603,356 601,352 596,353 594,358 590,366 584,374 578,382 576,387 578,390 581,392 580,397 579,402 578,408"/>
<polyline points="546,379 551,380 554,384 558,389 562,392 566,396 567,402 570,406 576,408"/>
</g></g>
<g clip-path="url(#c12)" shape-rendering="auto"><g transform="translate(120,398) scale(0.2)" fill="none" stroke="#62626a" stroke-width="11.5" stroke-linejoin="round" stroke-linecap="round">
<polyline points="20,0 60,10 100,40 130,70 150,100 190,140 230,175 260,205 300,225 340,240 370,265 390,290 420,290 450,275 480,280 520,295 560,290 600,295 625,320 650,335 680,345 685,390 700,430 730,455 740,455"/>
</g></g>
<g clip-path="url(#c13)" shape-rendering="auto"><g transform="translate(268,398) scale(0.2)" fill="none" stroke="#62626a" stroke-width="11.5" stroke-linejoin="round" stroke-linecap="round">
<polyline points="190,0 220,10 250,30 290,45 340,50 400,50 450,45 500,35 540,30 570,35 595,55 605,85 590,110 560,130 530,145 510,165 515,195 545,220 590,240 640,265 690,290 740,315"/>
<polyline points="0,445 30,445 60,460 85,490 60,520 100,525 140,510 180,505 210,530 235,570 240,580"/>
</g></g>
<g clip-path="url(#c14)" shape-rendering="auto"><g transform="translate(416,398) scale(0.2)" fill="none" stroke="#62626a" stroke-width="11.5" stroke-linejoin="round" stroke-linecap="round">
<polyline points="0,315 40,325 90,345 130,365 170,385 200,410 230,440 270,460 310,475 350,490 390,500 415,515 420,545 440,570 465,580"/>
<polyline points="90,580 110,565 150,558 190,565 205,575"/>
</g></g>
<g clip-path="url(#c15)" shape-rendering="auto"><g transform="translate(472,398) scale(0.2)" fill="none" stroke="#62626a" stroke-width="11.5" stroke-linejoin="round" stroke-linecap="round">
<polyline points="470,0 475,30 500,50 530,60 560,65 595,75 610,95 608,140 595,170 575,200 568,240 572,270 580,290 575,330 570,370 590,400 580,420 555,430 545,470 530,510 545,530 570,555 580,580"/>
<polyline points="545,0 540,30 535,55"/>
</g></g>
<g clip-path="url(#c16)" shape-rendering="auto"><g transform="translate(120,414) scale(0.2)" fill="none" stroke="#62626a" stroke-width="11.5" stroke-linejoin="round" stroke-linecap="round">
</g></g>
<g clip-path="url(#c17)" shape-rendering="auto"><g transform="translate(268,414) scale(0.2)" fill="none" stroke="#62626a" stroke-width="11.5" stroke-linejoin="round" stroke-linecap="round">
<polyline points="215,440 235,490 245,530 235,570"/>
</g></g>
<g clip-path="url(#c18)" shape-rendering="auto"><g transform="translate(416,414) scale(0.2)" fill="none" stroke="#62626a" stroke-width="11.5" stroke-linejoin="round" stroke-linecap="round">
<polyline points="40,570 70,520 110,485 150,478 200,490 175,510 180,530 220,550 280,560 340,565 380,570"/>
<polyline points="415,430 420,460 450,490 490,520 520,545 540,570"/>
</g></g>
<g clip-path="url(#c19)" shape-rendering="auto"><g transform="translate(472,414) scale(0.2)" fill="none" stroke="#62626a" stroke-width="11.5" stroke-linejoin="round" stroke-linecap="round">
<polyline points="525,435 545,460 570,470 580,500 575,540 560,550 540,520 520,510 530,540 555,570"/>
</g></g>
<g clip-path="url(#c20)" shape-rendering="auto"><g transform="translate(342,108) scale(0.2)" fill="none" stroke="#62626a" stroke-width="11.5" stroke-linejoin="round" stroke-linecap="round">
</g></g>
<g clip-path="url(#c21)" shape-rendering="auto"><g transform="translate(120,224) scale(0.2)" fill="none" stroke="#62626a" stroke-width="11.5" stroke-linejoin="round" stroke-linecap="round">
</g></g>
<g clip-path="url(#c22)" shape-rendering="auto"><g transform="translate(472,108) scale(0.2)" fill="none" stroke="#62626a" stroke-width="11.5" stroke-linejoin="round" stroke-linecap="round">
<polyline points="540,275 562,285 550,296 510,290 485,282"/>
<polyline points="440,408 470,392"/>
</g></g>
<g clip-path="url(#c23)" shape-rendering="auto"><g transform="translate(416,224) scale(0.2)" fill="none" stroke="#62626a" stroke-width="11.5" stroke-linejoin="round" stroke-linecap="round">
</g></g>
<g clip-path="url(#c24)" shape-rendering="auto"><g transform="translate(0,0) scale(1)" fill="none" stroke="#62626a" stroke-width="2.3" stroke-linejoin="round" stroke-linecap="round">
</g></g>
<g clip-path="url(#c25)" shape-rendering="auto"><g transform="translate(120,340) scale(0.2)" fill="none" stroke="#62626a" stroke-width="11.5" stroke-linejoin="round" stroke-linecap="round">
</g></g>
<g clip-path="url(#c26)" shape-rendering="auto"><g transform="translate(342,440) scale(0.2)" fill="none" stroke="#62626a" stroke-width="11.5" stroke-linejoin="round" stroke-linecap="round">
</g></g>
<g clip-path="url(#c27)" shape-rendering="auto"><g transform="translate(380,270) scale(0.137931)" fill="none" stroke="#62626a" stroke-width="16.675" stroke-linejoin="round" stroke-linecap="round">
</g></g>
<g stroke="#6e767e" stroke-width="1" stroke-dasharray="2,4" fill="none" opacity="0.9">
<line x1="136.5" y1="53" x2="136.5" y2="529"/>
<line x1="196.5" y1="53" x2="196.5" y2="529"/>
<line x1="256.5" y1="53" x2="256.5" y2="529"/>
<line x1="317.5" y1="53" x2="317.5" y2="529"/>
<line x1="377.5" y1="53" x2="377.5" y2="529"/>
<line x1="437.5" y1="53" x2="437.5" y2="529"/>
<line x1="498.5" y1="53" x2="498.5" y2="529"/>
<line x1="558.5" y1="53" x2="558.5" y2="529"/>
<line x1="123" y1="106.5" x2="618" y2="106.5"/>
<line x1="123" y1="180.5" x2="618" y2="180.5"/>
<line x1="123" y1="254.5" x2="618" y2="254.5"/>
<line x1="123" y1="327.5" x2="618" y2="327.5"/>
<line x1="123" y1="401.5" x2="618" y2="401.5"/>
<line x1="123" y1="475.5" x2="618" y2="475.5"/>
</g>
<rect x="120" y="51" width="499" height="478.2" fill="none" stroke="#000" stroke-width="2"/>
<g stroke="#000" stroke-width="1">
<line x1="136.5" y1="530" x2="136.5" y2="533"/>
<line x1="196.5" y1="530" x2="196.5" y2="533"/>
<line x1="256.5" y1="530" x2="256.5" y2="533"/>
<line x1="317.5" y1="530" x2="317.5" y2="533"/>
<line x1="377.5" y1="530" x2="377.5" y2="533"/>
<line x1="437.5" y1="530" x2="437.5" y2="533"/>
<line x1="498.5" y1="530" x2="498.5" y2="533"/>
<line x1="558.5" y1="530" x2="558.5" y2="533"/>
<line x1="618.5" y1="530" x2="618.5" y2="533"/>
<line x1="117" y1="106.5" x2="120" y2="106.5"/>
<line x1="117" y1="180.5" x2="120" y2="180.5"/>
<line x1="117" y1="254.5" x2="120" y2="254.5"/>
<line x1="117" y1="327.5" x2="120" y2="327.5"/>
<line x1="117" y1="401.5" x2="120" y2="401.5"/>
<line x1="117" y1="475.5" x2="120" y2="475.5"/>
</g>
<rect x="516.4" y="51" width="102.6" height="41" fill="#fff" stroke="#000" stroke-width="1.6"/>
<rect x="120" y="465.5" width="136" height="64" fill="#fff" stroke="#000" stroke-width="2"/>
<rect x="652" y="77" width="15" height="19.14" fill="#ffeedd"/>
<rect x="652" y="95.64" width="15" height="19.14" fill="#d8bfd8"/>
<rect x="652" y="114.28" width="15" height="19.14" fill="#dda0dd"/>
<rect x="652" y="132.92" width="15" height="19.14" fill="#ba55d3"/>
<rect x="652" y="151.56" width="15" height="19.14" fill="#8b008b"/>
<rect x="652" y="170.2" width="15" height="19.14" fill="#960000"/>
<rect x="652" y="188.84" width="15" height="19.14" fill="#c80000"/>
<rect x="652" y="207.48" width="15" height="19.14" fill="#ff0000"/>
<rect x="652" y="226.12" width="15" height="19.14" fill="#ff5a00"/>
<rect x="652" y="244.76" width="15" height="19.14" fill="#f08228"/>
<rect x="652" y="263.4" width="15" height="19.14" fill="#e6af2d"/>
<rect x="652" y="282.04" width="15" height="19.14" fill="#e6dc32"/>
<rect x="652" y="300.68" width="15" height="19.14" fill="#f5f064"/>
<rect x="652" y="319.32" width="15" height="19.14" fill="#e1f5a5"/>
<rect x="652" y="337.96" width="15" height="19.14" fill="#a0e632"/>
<rect x="652" y="356.6" width="15" height="19.14" fill="#00dc00"/>
<rect x="652" y="375.24" width="15" height="19.14" fill="#00aa00"/>
<rect x="652" y="393.88" width="15" height="19.14" fill="#007800"/>
<rect x="652" y="412.52" width="15" height="19.14" fill="#1e3cff"/>
<rect x="652" y="431.16" width="15" height="19.14" fill="#00a0e6"/>
<rect x="652" y="449.8" width="15" height="19.14" fill="#addce6"/>
<rect x="652" y="468.44" width="15" height="19.14" fill="#ebffff"/>
</svg>
<div class="t" style="left:171.00px;top:27.07px;font-size:15px;letter-spacing:1.235px;color:#000;">Temperatura</div>
<div class="t" style="left:280.40px;top:27.07px;font-size:15px;letter-spacing:1.062px;color:#000;">zraka</div>
<div class="t" style="left:331.80px;top:27.07px;font-size:15px;letter-spacing:-0.650px;color:#000;">na</div>
<div class="t" style="left:359.80px;top:27.07px;font-size:15px;letter-spacing:2.325px;color:#000;">2m</div>
<div class="t" style="left:395.00px;top:27.07px;font-size:15px;letter-spacing:-2.375px;color:#000;">u</div>
<div class="t" style="left:413.00px;top:27.07px;font-size:15px;letter-spacing:1.675px;color:#000;">06</div>
<div class="t" style="left:443.20px;top:27.07px;font-size:15px;letter-spacing:-2.037px;color:#000;">UTC</div>
<div class="t" style="left:481.30px;top:27.07px;font-size:15px;letter-spacing:0.931px;color:#000;">21FEB2012</div>
<div class="t" style="left:670.00px;top:71.09px;font-size:12.1px;letter-spacing:1.400px;color:#000;">29</div>
<div class="t" style="left:670.00px;top:89.73px;font-size:12.1px;letter-spacing:1.400px;color:#000;">27</div>
<div class="t" style="left:670.00px;top:108.37px;font-size:12.1px;letter-spacing:1.400px;color:#000;">25</div>
<div class="t" style="left:670.00px;top:127.01px;font-size:12.1px;letter-spacing:1.400px;color:#000;">23</div>
<div class="t" style="left:670.00px;top:145.65px;font-size:12.1px;letter-spacing:1.400px;color:#000;">21</div>
<div class="t" style="left:670.00px;top:164.29px;font-size:12.1px;letter-spacing:1.400px;color:#000;">19</div>
<div class="t" style="left:670.00px;top:182.93px;font-size:12.1px;letter-spacing:1.400px;color:#000;">17</div>
<div class="t" style="left:670.00px;top:201.57px;font-size:12.1px;letter-spacing:1.400px;color:#000;">15</div>
<div class="t" style="left:670.00px;top:220.21px;font-size:12.1px;letter-spacing:1.400px;color:#000;">13</div>
<div class="t" style="left:670.00px;top:238.85px;font-size:12.1px;letter-spacing:2.275px;color:#000;">11</div>
<div class="t" style="left:670.00px;top:257.49px;font-size:12.1px;letter-spacing:0.050px;color:#000;">9</div>
<div class="t" style="left:670.00px;top:276.13px;font-size:12.1px;letter-spacing:0.050px;color:#000;">7</div>
<div class="t" style="left:670.00px;top:294.77px;font-size:12.1px;letter-spacing:0.050px;color:#000;">5</div>
<div class="t" style="left:670.00px;top:313.41px;font-size:12.1px;letter-spacing:0.050px;color:#000;">3</div>
<div class="t" style="left:670.00px;top:332.05px;font-size:12.1px;letter-spacing:0.050px;color:#000;">1</div>
<div style="position:absolute;left:671px;top:357px;width:7px;height:1px;background:#000"></div>
<div class="t" style="left:680.50px;top:350.69px;font-size:12.1px;letter-spacing:0.050px;color:#000;">1</div>
<div style="position:absolute;left:671px;top:375px;width:7px;height:1px;background:#000"></div>
<div class="t" style="left:680.50px;top:369.33px;font-size:12.1px;letter-spacing:0.050px;color:#000;">3</div>
<div style="position:absolute;left:671px;top:394px;width:7px;height:1px;background:#000"></div>
<div class="t" style="left:680.50px;top:387.97px;font-size:12.1px;letter-spacing:0.050px;color:#000;">5</div>
<div style="position:absolute;left:671px;top:413px;width:7px;height:1px;background:#000"></div>
<div class="t" style="left:680.50px;top:406.61px;font-size:12.1px;letter-spacing:0.050px;color:#000;">7</div>
<div style="position:absolute;left:671px;top:431px;width:7px;height:1px;background:#000"></div>
<div class="t" style="left:680.50px;top:425.25px;font-size:12.1px;letter-spacing:0.050px;color:#000;">9</div>
<div style="position:absolute;left:671px;top:450px;width:7px;height:1px;background:#000"></div>
<div class="t" style="left:680.50px;top:443.89px;font-size:12.1px;letter-spacing:1.675px;color:#000;">11</div>
<div style="position:absolute;left:671px;top:468px;width:7px;height:1px;background:#000"></div>
<div class="t" style="left:680.50px;top:462.53px;font-size:12.1px;letter-spacing:0.800px;color:#000;">13</div>
<div style="position:absolute;left:671px;top:487px;width:7px;height:1px;background:#000"></div>
<div class="t" style="left:680.50px;top:481.17px;font-size:12.1px;letter-spacing:0.800px;color:#000;">15</div>
<div style="position:absolute;left:671px;top:506px;width:7px;height:1px;background:#000"></div>
<div class="t" style="left:680.50px;top:499.81px;font-size:12.1px;letter-spacing:0.800px;color:#000;">17</div>
<div class="t" style="left:664.00px;top:520.71px;font-size:9.4px;letter-spacing:0.833px;color:#000;">(st.</div>
<div class="t" style="left:688.00px;top:520.71px;font-size:9.4px;letter-spacing:1.825px;color:#000;">C)</div>
<div class="t" style="left:128.50px;top:534.97px;font-size:10.3px;letter-spacing:-1.325px;color:#000;">12E</div>
<div class="t" style="left:188.80px;top:534.97px;font-size:10.3px;letter-spacing:-1.325px;color:#000;">13E</div>
<div class="t" style="left:249.10px;top:534.97px;font-size:10.3px;letter-spacing:-1.325px;color:#000;">14E</div>
<div class="t" style="left:309.40px;top:534.97px;font-size:10.3px;letter-spacing:-1.325px;color:#000;">15E</div>
<div class="t" style="left:369.70px;top:534.97px;font-size:10.3px;letter-spacing:-1.325px;color:#000;">16E</div>
<div class="t" style="left:430.00px;top:534.97px;font-size:10.3px;letter-spacing:-1.325px;color:#000;">17E</div>
<div class="t" style="left:490.30px;top:534.97px;font-size:10.3px;letter-spacing:-1.325px;color:#000;">18E</div>
<div class="t" style="left:550.60px;top:534.97px;font-size:10.3px;letter-spacing:-1.325px;color:#000;">19E</div>
<div class="t" style="left:610.90px;top:534.97px;font-size:10.3px;letter-spacing:-1.325px;color:#000;">20E</div>
<div class="t" style="left:96.90px;top:101.77px;font-size:10.3px;letter-spacing:-0.475px;color:#000;">46N</div>
<div class="t" style="left:96.90px;top:175.57px;font-size:10.3px;letter-spacing:-0.475px;color:#000;">45N</div>
<div class="t" style="left:96.90px;top:249.37px;font-size:10.3px;letter-spacing:-0.475px;color:#000;">44N</div>
<div class="t" style="left:96.90px;top:323.17px;font-size:10.3px;letter-spacing:-0.475px;color:#000;">43N</div>
<div class="t" style="left:96.90px;top:396.97px;font-size:10.3px;letter-spacing:-0.475px;color:#000;">42N</div>
<div class="t" style="left:96.90px;top:470.77px;font-size:10.3px;letter-spacing:-0.475px;color:#000;">41N</div>
<div class="t" style="left:529.60px;top:61.39px;font-size:20.5px;letter-spacing:-0.525px;color:#1e3cff;">©</div>
<div class="t" style="left:549.00px;top:61.39px;font-size:20.5px;letter-spacing:-1.083px;color:#1e3cff;">DHMZ</div>
<div class="t" style="left:149.00px;top:475.20px;font-size:9px;letter-spacing:1.337px;color:#000;">Temperatura</div>
<div class="t" style="left:222.00px;top:475.20px;font-size:9px;letter-spacing:0.969px;color:#000;">zraka</div>
<div class="t" style="left:173.00px;top:489.00px;font-size:9px;letter-spacing:0.375px;color:#000;">na</div>
<div class="t" style="left:191.00px;top:489.00px;font-size:9px;letter-spacing:1.500px;color:#000;">2m</div>
<div class="t" style="left:213.50px;top:489.00px;font-size:9px;letter-spacing:1.000px;color:#000;">(st.</div>
<div class="t" style="left:237.00px;top:489.00px;font-size:9px;letter-spacing:1.500px;color:#000;">C)</div>
<div class="t" style="left:142.60px;top:502.60px;font-size:9px;letter-spacing:2.100px;color:#000;">start</div>
<div class="t" style="left:176.00px;top:502.60px;font-size:9px;letter-spacing:1.364px;color:#000;">00z20feb2012</div>
<div class="t" style="left:130.40px;top:516.20px;font-size:9px;letter-spacing:1.920px;color:#000;">termin</div>
<div class="t" style="left:172.50px;top:516.20px;font-size:9px;letter-spacing:1.136px;color:#000;">06Z21FEB2012</div>
</body></html>
